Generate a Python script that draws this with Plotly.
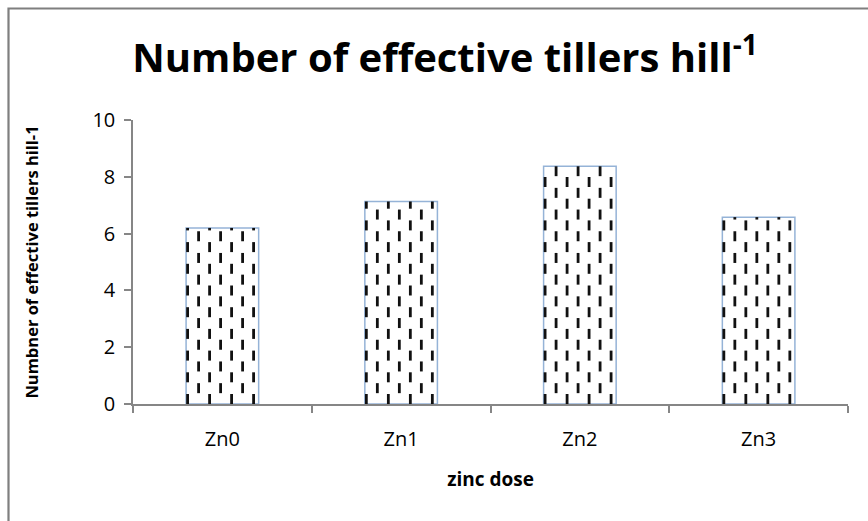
import numpy as np
import plotly.graph_objects as go

# Data
categories = ["Zn0", "Zn1", "Zn2", "Zn3"]
tillers = [6.2, 7.13, 8.37, 6.58]
y_ticks = [0, 2, 4, 6, 8, 10]

W_PX, H_PX = 868, 521
M_L, M_R, M_T, M_B = 133, 20, 120, 117
plot_w = W_PX - M_L - M_R
plot_h = H_PX - M_T - M_B

bar_width = 0.406          # in category units
unit_px = plot_w / 4.0     # pixels per category
y_px = plot_h / 10.0       # pixels per y unit

# Dashed vertical hatch inside each bar, clipped to the bar's height
period = 21.7 / y_px
dash_len = 10.0 / y_px
hx, hy = [], []
for i, v in enumerate(tillers):
    left = i - bar_width / 2
    for k in range(7):
        cx = left + (1.5 + 11.0 * k) / unit_px
        phase = 0.0 if k % 2 == 0 else period / 2
        y0 = phase - period
        while y0 < v:
            a, b = max(y0, 0.0), min(y0 + dash_len, v)
            if b > a:
                hx += [cx, cx, None]
                hy += [a, b, None]
            y0 += period

fig = go.Figure()
fig.add_trace(go.Bar(
    x=list(range(len(categories))), y=tillers, width=bar_width,
    marker=dict(color="white", line=dict(color="#95B3D7", width=1.5)),
    hoverinfo="skip", showlegend=False,
))
fig.add_trace(go.Scatter(
    x=hx, y=hy, mode="lines",
    line=dict(color="#111111", width=2.8),
    hoverinfo="skip", showlegend=False,
))

axis_col = "#868686"
font_fam = "'Open Sans', 'Noto Sans', sans-serif"

fig.update_layout(
    width=W_PX, height=H_PX,
    margin=dict(l=M_L, r=M_R, t=M_T, b=M_B),
    paper_bgcolor="white", plot_bgcolor="white",
    font=dict(family=font_fam, color="black"),
    title=dict(
        text="<b>Number of effective tillers hill<sup>-1</sup></b>",
        x=(133 + 757) / 2 / W_PX, xanchor="center",
        y=1 - 58 / H_PX, yanchor="middle",
        font=dict(size=40, family=font_fam, color="black"),
    ),
    xaxis=dict(
        range=[-0.5, 3.5],
        tickvals=list(range(len(categories))), ticktext=categories,
        ticks="", showgrid=False, zeroline=False,
        showline=True, linecolor=axis_col, linewidth=1.5,
        tickfont=dict(size=20, family=font_fam),
        ticklabelstandoff=16,
        minor=dict(tickvals=[-0.5, 0.5, 1.5, 2.5, 3.5], ticks="outside",
                   ticklen=7, tickcolor=axis_col, tickwidth=1.5, showgrid=False),
        title=dict(text="<b>zinc dose</b>", font=dict(size=19, family=font_fam),
                   standoff=22),
        fixedrange=True,
    ),
    yaxis=dict(
        range=[0, 10], tickvals=y_ticks,
        ticks="outside", ticklen=7, tickcolor=axis_col, tickwidth=1.5,
        showgrid=False, zeroline=False,
        showline=True, linecolor=axis_col, linewidth=1.5,
        tickfont=dict(size=20, family=font_fam),
        ticklabelstandoff=5,
        title=dict(text="<b>Numbner of effective tillers hill-1</b>",
                   font=dict(size=16.5, family=font_fam), standoff=50),
        fixedrange=True,
    ),
    shapes=[dict(
        type="rect", xref="paper", yref="paper",
        x0=(8.5 - M_L) / plot_w, x1=(W_PX + 30 - M_L) / plot_w,
        y0=-(M_B + 30) / plot_h, y1=(H_PX - M_B - 8.5) / plot_h,
        line=dict(color="#7f7f7f", width=2.2), fillcolor="rgba(0,0,0,0)",
        layer="below",
    )],
)

fig.write_html("out.html")
